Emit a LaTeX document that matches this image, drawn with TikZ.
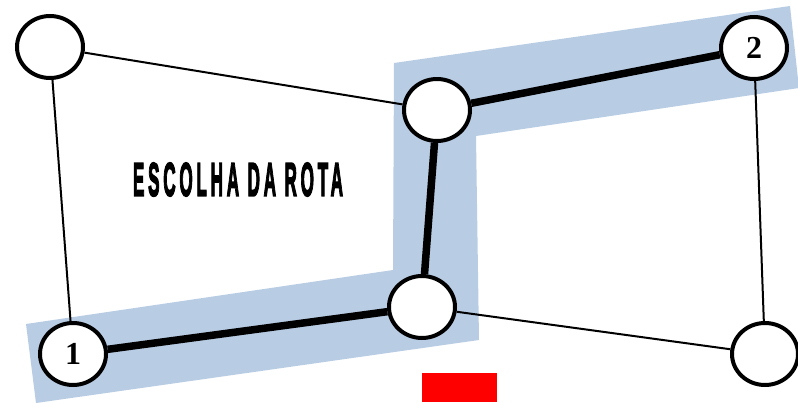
\documentclass[tikz,border=0pt]{standalone}
\usepackage{fontspec}
\setmainfont{Liberation Serif}
\newfontfamily\titulofont[FakeBold=4]{Liberation Sans}
\usepackage{graphicx}
\usetikzlibrary{shapes.geometric}
\definecolor{faixa}{RGB}{184,204,228}
\tikzset{
	vertice/.style={ellipse, draw, line width=4pt, fill=white, minimum width=66pt, minimum height=62pt, inner sep=0pt, font=\fontsize{32}{32}\selectfont\bfseries},
	aresta/.style={line width=2pt},
	rota/.style={line width=7.5pt},
}
\begin{document}
\begin{tikzpicture}[x=1pt, y=-1pt]
		\useasboundingbox (0, 0) rectangle (798, 402);
		\clip (0, 0) rectangle (798, 402);
		% faixa da rota escolhida
		\fill[faixa] (26, 324) -- (393, 270) -- (394, 63) -- (790, 6) -- (799, 88) -- (476, 136) -- (479, 340) -- (36, 403) -- cycle;
		\fill[red] (422, 373) rectangle (497, 402);
		\node[vertice] (a) at (50, 47) {};
		\node[vertice] (um) at (73, 354) {1};
		\node[vertice] (b) at (437, 110) {};
		\node[vertice] (c) at (422, 307) {};
		\node[vertice] (dois) at (754, 48) {2};
		\node[vertice] (d) at (765, 354) {};
		\draw[aresta] (a) -- (b);
		\draw[aresta] (a) -- (um);
		\draw[aresta] (c) -- (d);
		\draw[aresta] (dois) -- (d);
		\draw[rota] (um) -- (c);
		\draw[rota] (c) -- (b);
		\draw[rota] (b) -- (dois);
		\node (titulo) at (238, 179.5) {\resizebox{210pt}{33pt}{\titulofont\bfseries\addfontfeature{LetterSpace=22}ESCOLHA DA ROTA}};
	\end{tikzpicture}
\end{document}
